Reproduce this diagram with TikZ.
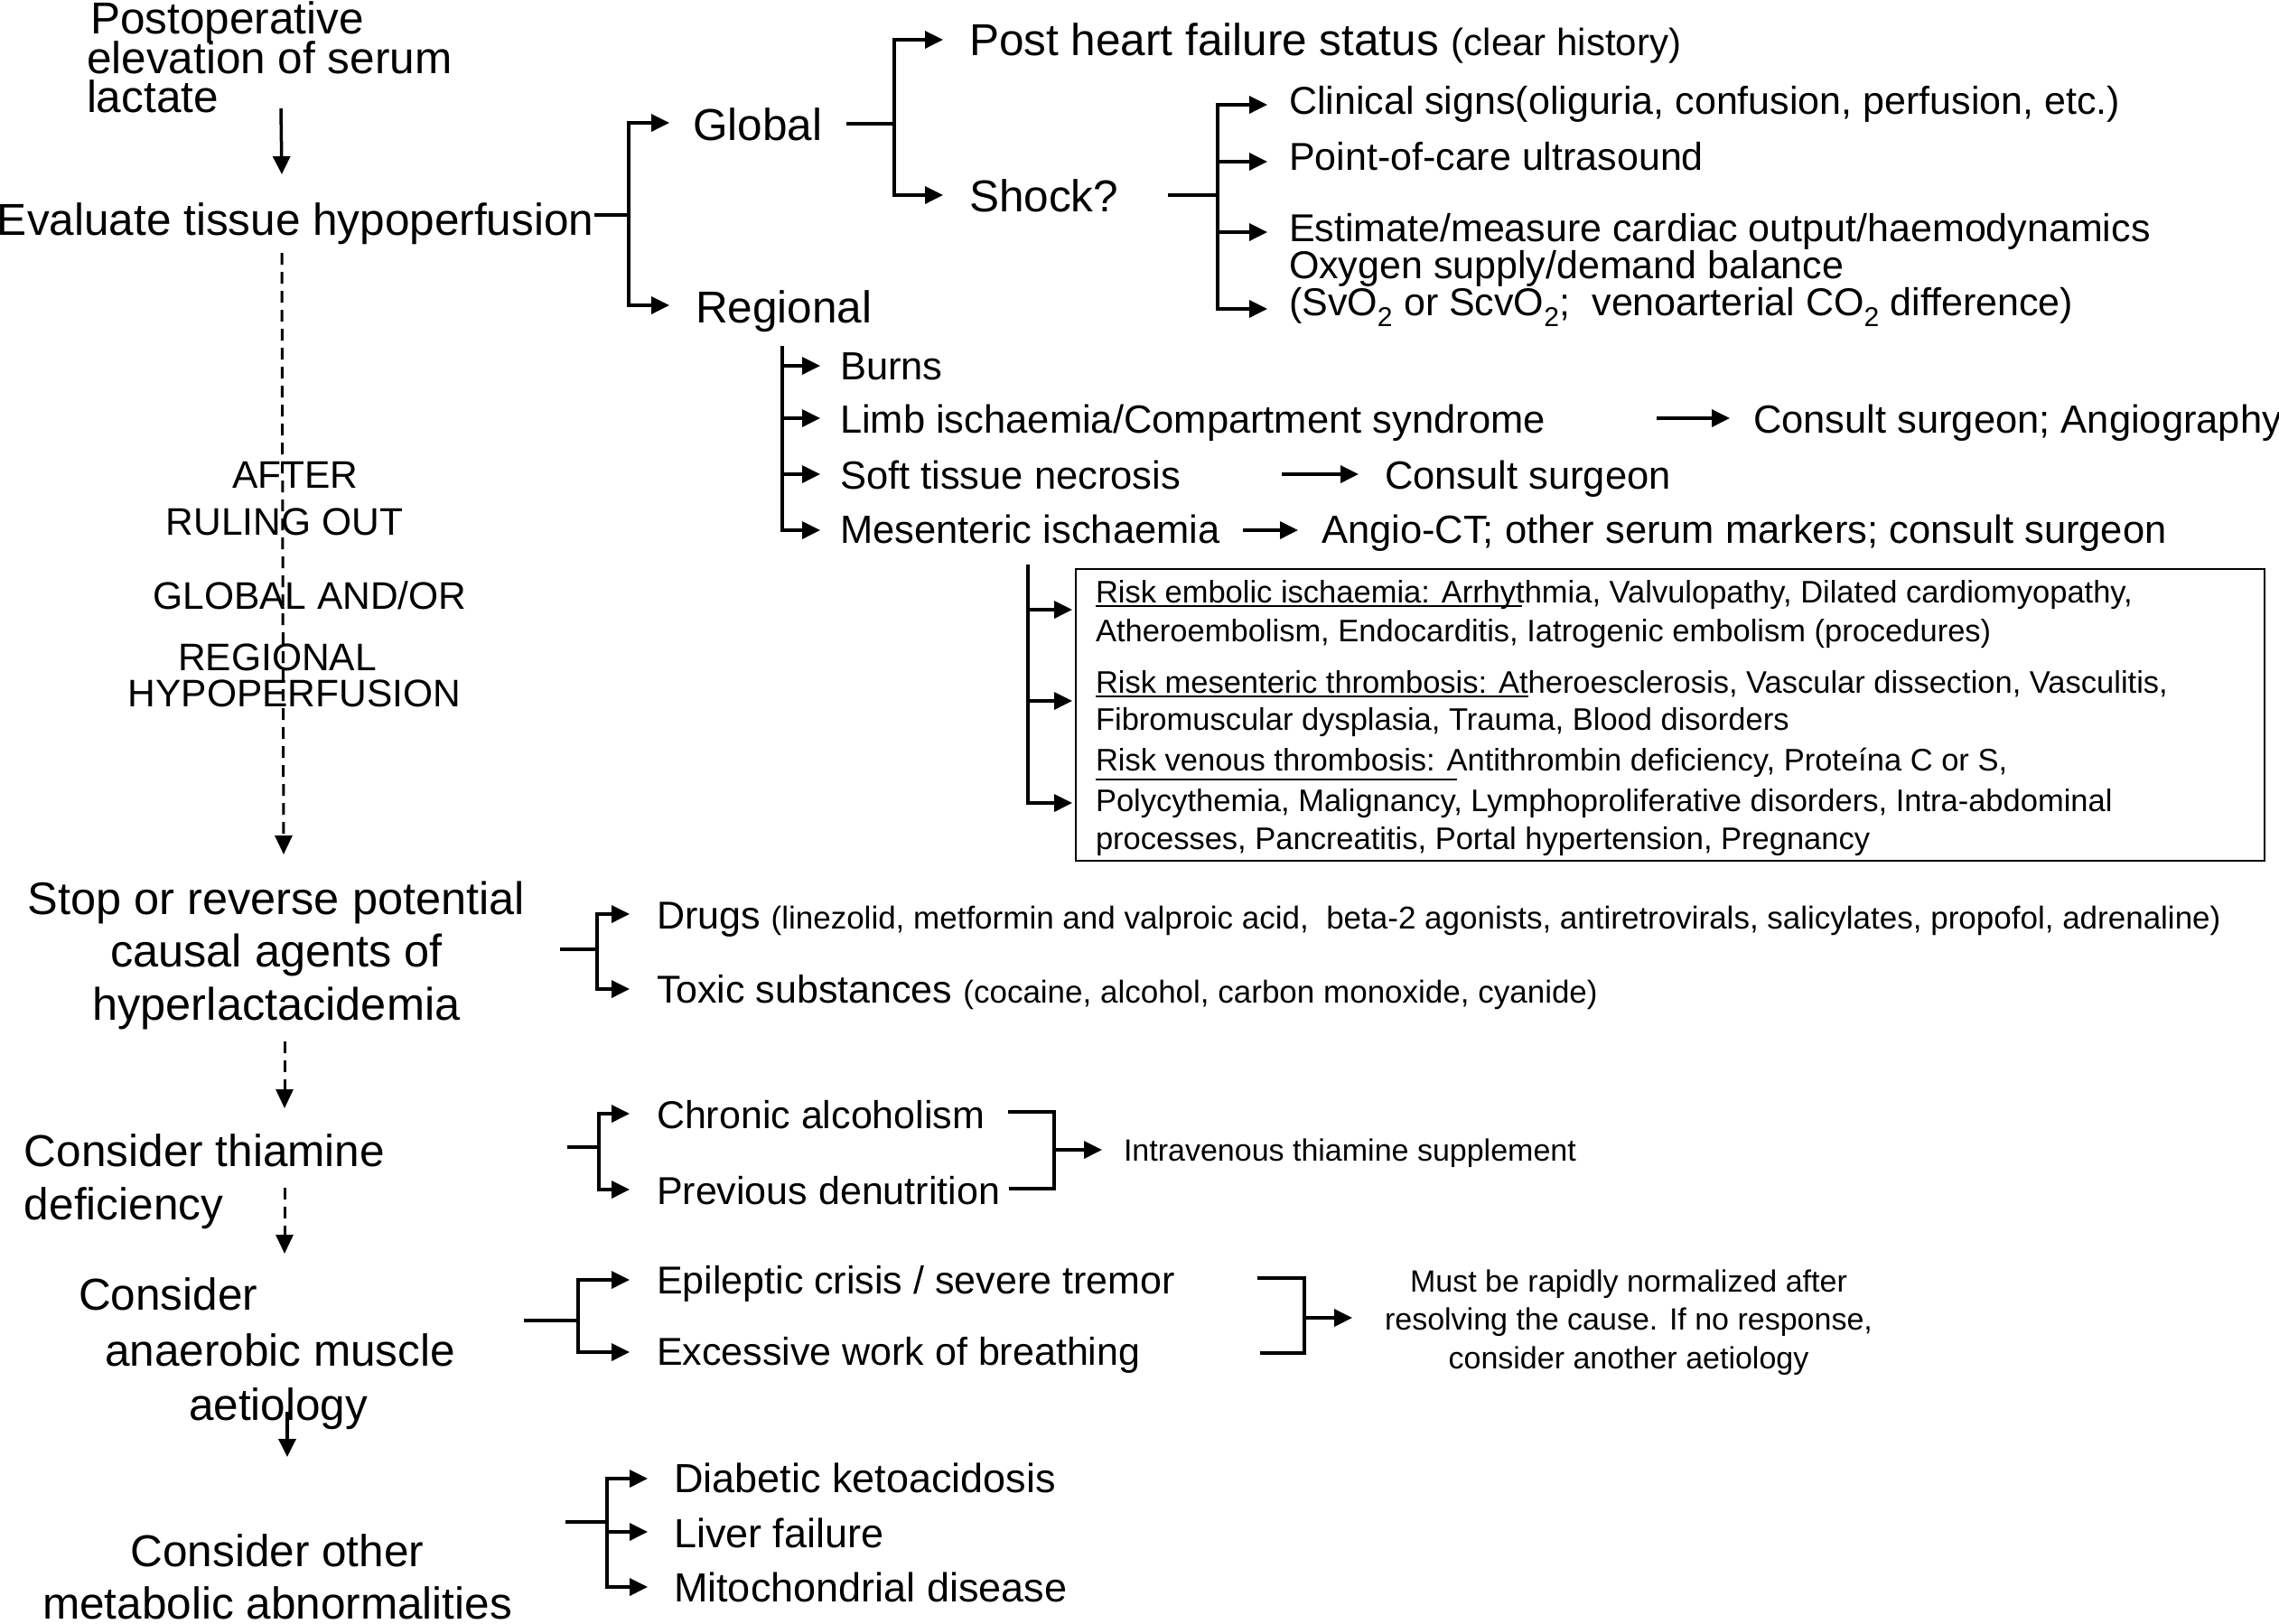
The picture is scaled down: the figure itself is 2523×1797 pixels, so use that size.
\documentclass[tikz,border=0pt]{standalone}
\usepackage{fontspec}
\setmainfont{Liberation Sans}
\usetikzlibrary{arrows.meta}
\newcommand*\fBig{\fontsize{49.5}{50}\selectfont}
\newcommand*\fStop{\fontsize{50.5}{51}\selectfont}
\newcommand*\fMid{\fontsize{43}{44}\selectfont}
\newcommand*\fReg{\fontsize{43.5}{44}\selectfont}
\newcommand*\fLow{\fontsize{45}{46}\selectfont}
\newcommand*\fCap{\fontsize{42.5}{43}\selectfont}
\newcommand*\fHist{\fontsize{42}{43}\selectfont}
\newcommand*\fParen{\fontsize{35}{36}\selectfont}
\newcommand*\fBoxT{\fontsize{34.5}{35}\selectfont}
\newcommand*\fNote{\fontsize{34}{35}\selectfont}
\begin{document}
\begin{tikzpicture}[x=1pt,y=-1pt,
  every node/.style={inner sep=0pt,outer sep=0pt,anchor=base west},
  ln/.style={line width=3.5pt},
  arr/.style={line width=3.5pt,-{Triangle[length=20pt,width=19pt]}},
  dsh/.style={line width=3pt,dash pattern=on 13pt off 8pt,-{Triangle[length=21pt,width=19pt]}},
  uline/.style={line width=2.5pt}]
\useasboundingbox (0,0) rectangle (2523,1797);
\fill[white] (0,0) rectangle (2523,1797);

% ---------- top left ----------
\node[font=\fBig] (post1) at (100,37) {Postoperative};
\node[font=\fBig] (post2) at (96,81) {elevation of serum};
\node[font=\fBig] (post3) at (96,124) {lactate};
\node[font=\fBig] (eval) at (-3,260) {Evaluate tissue hypoperfusion};
\coordinate (vA) at (311,120);
\coordinate (vB) at (312,193);
\draw[arr] (vA) -- (vB);

% dashed vertical with label
\coordinate (dA) at (312,280);
\coordinate (dB) at (314,946);
\draw[dsh] (dA) -- (dB);
\node[font=\fCap,anchor=base] (af1) at (327,540) {AFTER};
\node[font=\fCap,anchor=base] (af2) at (315,592) {RULING OUT};
\node[font=\fCap,anchor=base] (af3) at (343,674) {GLOBAL AND/OR};
\node[font=\fCap,anchor=base] (af4) at (307,742) {REGIONAL};
\node[font=\fCap,anchor=base] (af5) at (326,782) {HYPOPERFUSION};

% ---------- global / regional ----------
\node[font=\fBig] (glob) at (767,155) {Global};
\node[font=\fBig] (regi) at (770,357) {Regional};
\coordinate (jEv) at (696,238);
\draw[ln] ([xshift=1pt,yshift=22pt]eval.base east) -- (jEv);
\draw[arr] (jEv) |- ([xshift=-26pt,yshift=19pt]glob.base west);
\draw[arr] (jEv) |- ([xshift=-29pt,yshift=19pt]regi.base west);

\node[font=\fBig] (phf) at (1073,61) {Post heart failure status {\fHist(clear history)}};
\node[font=\fBig] (shock) at (1073,234) {Shock?};
\coordinate (jG) at (990,137);
\draw[ln] ([xshift=27pt,yshift=18pt]glob.base east) -- (jG);
\draw[arr] (jG) |- ([xshift=-29pt,yshift=17pt]phf.base west);
\draw[arr] (jG) |- ([xshift=-29pt,yshift=18pt]shock.base west);

\node[font=\fMid] (clin) at (1427,126) {Clinical signs(oliguria, confusion, perfusion, etc.)};
\node[font=\fMid] (poc) at (1427,188) {Point-of-care ultrasound};
\node[font=\fMid] (est) at (1427,267) {Estimate/measure cardiac output/haemodynamics};
\node[font=\fMid] (oxy) at (1427,308) {Oxygen supply/demand balance};
\node[font=\fMid] (svo) at (1427,349) {(SvO\textsubscript{2} or ScvO\textsubscript{2};\ \ venoarterial CO\textsubscript{2} difference)};
\coordinate (jS) at (1348,216);
\draw[ln] ([xshift=55pt,yshift=18pt]shock.base east) -- (jS);
\draw[arr] (jS) |- ([xshift=-24pt,yshift=10pt]clin.base west);
\draw[arr] (jS) |- ([xshift=-24pt,yshift=9pt]poc.base west);
\draw[arr] (jS) |- ([xshift=-24pt,yshift=10pt]est.base west);
\draw[arr] (jS) |- ([xshift=-24pt,yshift=7pt]svo.base west);

% ---------- regional branch ----------
\node[font=\fReg] (burns) at (930,420) {Burns};
\node[font=\fReg] (limb) at (930,479) {Limb ischaemia/Compartment syndrome};
\node[font=\fReg] (soft) at (930,541) {Soft tissue necrosis};
\node[font=\fReg] (mes) at (930,601) {Mesenteric ischaemia};
\coordinate (jR) at (866,383);
\draw[arr] (jR) |- ([xshift=-22pt,yshift=15pt]burns.base west);
\draw[arr] (jR) |- ([xshift=-22pt,yshift=16pt]limb.base west);
\draw[arr] (jR) |- ([xshift=-22pt,yshift=16pt]soft.base west);
\draw[arr] (jR) |- ([xshift=-22pt,yshift=14pt]mes.base west);

\node[font=\fReg] (cons1) at (1941,479) {Consult surgeon; Angiography};
\node[font=\fReg] (cons2) at (1533,541) {Consult surgeon};
\node[font=\fReg] (angio) at (1463,601) {Angio-CT; other serum markers; consult surgeon};
\draw[arr] ([xshift=-107pt,yshift=16pt]cons1.base west) -- ([xshift=-26pt,yshift=16pt]cons1.base west);
\draw[arr] ([xshift=-114pt,yshift=16pt]cons2.base west) -- ([xshift=-29pt,yshift=16pt]cons2.base west);
\draw[arr] ([xshift=-87pt,yshift=14pt]angio.base west) -- ([xshift=-26pt,yshift=14pt]angio.base west);

% ---------- risk box ----------
\node[draw,line width=2pt,anchor=north west,minimum width=1316pt,minimum height=323pt] (box) at (1191,630) {};
\coordinate (jM) at (1138,625);
\draw[arr] (jM) |- ([xshift=-4pt,yshift=-45pt]box.north west);
\draw[arr] (jM) |- ([xshift=-4pt,yshift=-146pt]box.north west);
\draw[arr] (jM) |- ([xshift=-4pt,yshift=-259pt]box.north west);
\node[font=\fBoxT] (b1) at (1213,667) {Risk embolic ischaemia: Arrhythmia, Valvulopathy, Dilated cardiomyopathy,};
\node[font=\fBoxT] (b2) at (1213,710) {Atheroembolism, Endocarditis, Iatrogenic embolism (procedures)};
\node[font=\fBoxT] (b3) at (1213,767) {Risk mesenteric thrombosis: Atheroesclerosis, Vascular dissection, Vasculitis,};
\node[font=\fBoxT] (b4) at (1213,808) {Fibromuscular dysplasia, Trauma, Blood disorders};
\node[font=\fBoxT] (b5) at (1213,853) {Risk venous thrombosis: Antithrombin deficiency, Proteína C or S,};
\node[font=\fBoxT] (b6) at (1213,898) {Polycythemia, Malignancy, Lymphoproliferative disorders, Intra-abdominal};
\node[font=\fBoxT] (b7) at (1213,940) {processes, Pancreatitis, Portal hypertension, Pregnancy};
\draw[uline] ([yshift=-4pt]b1.base west) -- ++(472,0);
\draw[uline] ([yshift=-4pt]b3.base west) -- ++(479,0);
\draw[uline] ([yshift=-10pt]b5.base west) -- ++(400,0);

% ---------- stop / reverse ----------
\node[font=\fStop,anchor=base] (stop1) at (306,1012) {Stop or reverse potential};
\node[font=\fStop,anchor=base] (stop2) at (306,1070) {causal agents of};
\node[font=\fStop,anchor=base] (stop3) at (306,1129) {hyperlactacidemia};
\coordinate (dC) at (315,1153);
\coordinate (dD) at (315,1227);
\draw[dsh] (dC) -- (dD);
\node[font=\fMid] (drugs) at (727,1028) {Drugs {\fParen(linezolid, metformin and valproic acid,\ \ beta-2 agonists, antiretrovirals, salicylates, propofol, adrenaline)}};
\node[font=\fMid] (toxic) at (727,1110) {Toxic substances {\fParen(cocaine, alcohol, carbon monoxide, cyanide)}};
\coordinate (sD) at (620,1051);
\coordinate (jD) at (661,1051);
\draw[ln] (sD) -- (jD);
\draw[arr] (jD) |- ([xshift=-30pt,yshift=16pt]drugs.base west);
\draw[arr] (jD) |- ([xshift=-30pt,yshift=15pt]toxic.base west);

% ---------- thiamine ----------
\node[font=\fBig] (thia1) at (27,1291) {Consider thiamine};
\node[font=\fBig] (thia2) at (27,1350) {deficiency};
\coordinate (dE) at (315,1315);
\coordinate (dF) at (315,1388);
\draw[dsh] (dE) -- (dF);
\node[font=\fMid] (chron) at (727,1249) {Chronic alcoholism};
\node[font=\fMid] (prev) at (727,1333) {Previous denutrition};
\coordinate (sT) at (628,1270);
\coordinate (jT) at (663,1270);
\draw[ln] (sT) -- (jT);
\draw[arr] (jT) |- ([xshift=-30pt,yshift=16pt]chron.base west);
\draw[arr] (jT) |- ([xshift=-30pt,yshift=16pt]prev.base west);
\coordinate (tA) at (1116,1231);
\coordinate (jT2) at (1167,1273);
\coordinate (tB) at (1117,1316);
\draw[ln] (tA) -| (jT2) |- (tB);
\node[font=\fNote] (iv) at (1244,1285) {Intravenous thiamine supplement};
\draw[arr] (jT2) -- ([xshift=-24pt,yshift=12pt]iv.base west);

% ---------- anaerobic ----------
\node[font=\fBig] (anae1) at (87,1450) {Consider};
\node[font=\fBig] (anae2) at (116,1512) {anaerobic muscle};
\node[font=\fBig] (anae3) at (209,1572) {aetiology};
\coordinate (vC) at (318,1563);
\coordinate (vD) at (318,1613);
\draw[arr] (vC) -- (vD);
\node[font=\fMid] (epi) at (727,1432) {Epileptic crisis / severe tremor};
\node[font=\fMid] (exc) at (727,1511) {Excessive work of breathing};
\coordinate (sE) at (580,1462);
\coordinate (jE) at (640,1462);
\draw[ln] (sE) -- (jE);
\draw[arr] (jE) |- ([xshift=-30pt,yshift=15pt]epi.base west);
\draw[arr] (jE) |- ([xshift=-30pt,yshift=14pt]exc.base west);
\coordinate (eA) at (1392,1415);
\coordinate (jE2) at (1444,1459);
\coordinate (eB) at (1395,1498);
\draw[ln] (eA) -| (jE2) |- (eB);
\node[font=\fNote,anchor=base] (must1) at (1803,1430) {Must be rapidly normalized after};
\node[font=\fNote,anchor=base] (must2) at (1803,1472) {resolving the cause. If no response,};
\node[font=\fNote,anchor=base] (must3) at (1803,1515) {consider another aetiology};
\draw[arr] (jE2) -- ([xshift=-36pt,yshift=13pt]must2.base west);

% ---------- other metabolic ----------
\node[font=\fBig,anchor=base] (oth1) at (307,1734) {Consider other};
\node[font=\fBig,anchor=base] (oth2) at (307,1792) {metabolic abnormalities};
\node[font=\fLow] (diab) at (746,1652) {Diabetic ketoacidosis};
\node[font=\fLow] (liver) at (746,1713) {Liver failure};
\node[font=\fLow] (mito) at (746,1773) {Mitochondrial disease};
\coordinate (sO) at (626,1685);
\coordinate (jO) at (672,1685);
\draw[ln] (sO) -- (jO);
\draw[arr] (jO) |- ([xshift=-29pt,yshift=15pt]diab.base west);
\draw[arr] (jO) |- ([xshift=-29pt,yshift=17pt]liver.base west);
\draw[arr] (jO) |- ([xshift=-29pt,yshift=16pt]mito.base west);
\end{tikzpicture}
\end{document}
